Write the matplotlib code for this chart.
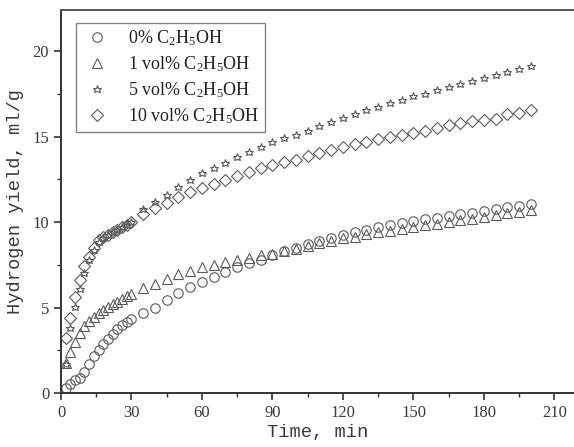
import matplotlib
matplotlib.use("Agg")
import matplotlib.pyplot as plt
from matplotlib.ticker import MultipleLocator

# sampling times: every 2 min for the first half hour, then every 5 min
time_min = list(range(2, 31, 2)) + list(range(35, 201, 5))

eth_0 = [0.3, 0.55, 0.75, 0.9, 1.25, 1.7, 2.15, 2.5, 2.85, 3.15, 3.45, 3.75, 3.95, 4.15, 4.35,
         4.7, 5.0, 5.45, 5.85, 6.2, 6.5, 6.8, 7.1, 7.35, 7.6, 7.8, 8.05,
         8.3, 8.5, 8.7, 8.9, 9.05, 9.25, 9.4, 9.55, 9.7, 9.85, 9.95, 10.05, 10.15, 10.25,
         10.35, 10.45, 10.55, 10.65, 10.75, 10.85, 10.95, 11.05]
eth_1 = [1.75, 2.4, 3.0, 3.5, 3.9, 4.2, 4.45, 4.65, 4.85, 5.05, 5.2, 5.35, 5.5, 5.65, 5.8,
         6.15, 6.4, 6.65, 6.95, 7.15, 7.35, 7.5, 7.65, 7.8, 7.9, 8.05, 8.15,
         8.3, 8.45, 8.6, 8.75, 8.9, 9.05, 9.15, 9.3, 9.4, 9.5, 9.6, 9.7, 9.8, 9.9,
         10.0, 10.1, 10.2, 10.3, 10.4, 10.5, 10.6, 10.7]
eth_5 = [1.7, 3.8, 5.05, 6.1, 7.0, 7.75, 8.35, 8.85, 9.05, 9.25, 9.4, 9.55, 9.7, 9.85, 10.0,
         10.75, 11.2, 11.6, 12.05, 12.45, 12.85, 13.15, 13.45, 13.8, 14.1, 14.4, 14.7,
         14.9, 15.1, 15.35, 15.6, 15.85, 16.1, 16.3, 16.55, 16.75, 16.95, 17.15, 17.35, 17.5, 17.7,
         17.9, 18.1, 18.25, 18.45, 18.6, 18.8, 18.95, 19.15]
eth_10 = [3.2, 4.4, 5.6, 6.6, 7.4, 7.95, 8.5, 8.95, 9.1, 9.25, 9.4, 9.55, 9.7, 9.85, 10.0,
          10.45, 10.8, 11.1, 11.45, 11.75, 12.0, 12.25, 12.45, 12.7, 12.95, 13.15, 13.35,
          13.5, 13.65, 13.85, 14.05, 14.2, 14.4, 14.55, 14.7, 14.85, 15.0, 15.1, 15.2, 15.35, 15.5,
          15.65, 15.8, 15.9, 15.95, 16.0, 16.3, 16.35, 16.55]

labels = [r"0% C$_2$H$_5$OH", r"1 vol% C$_2$H$_5$OH",
          r"5 vol% C$_2$H$_5$OH", r"10 vol% C$_2$H$_5$OH"]

plt.rcParams["font.family"] = "Liberation Serif"
plt.rcParams["mathtext.fontset"] = "custom"
plt.rcParams["mathtext.rm"] = "Liberation Serif"
plt.rcParams["mathtext.it"] = "Liberation Serif:italic"

fig = plt.figure(figsize=(5.74, 4.47), dpi=100)
ax = fig.add_axes([61 / 574, 54 / 447, 513 / 574, 383 / 447])

edge = "#5a5a5a"
style = dict(linestyle="none", markerfacecolor="none", markeredgecolor=edge,
             markeredgewidth=0.8, clip_on=False)
ax.plot(time_min, eth_0, marker="o", markersize=6.8, label=labels[0], **style)
ax.plot(time_min, eth_1, marker="^", markersize=7.2, label=labels[1], **style)
ax.plot(time_min, eth_5, marker="*", markersize=6.2, label=labels[2], **style)
ax.plot(time_min, eth_10, marker="D", markersize=5.8, label=labels[3], **style)

ax.set_xlim(0, 218.3)
ax.set_ylim(0, 22.4)
ax.xaxis.set_major_locator(MultipleLocator(30))
ax.xaxis.set_minor_locator(MultipleLocator(15))
ax.yaxis.set_major_locator(MultipleLocator(5))
ax.yaxis.set_minor_locator(MultipleLocator(2.5))
ax.tick_params(which="major", direction="out", length=5, width=1.2, labelsize=12,
               color="#333333", labelcolor="#3a3a3a")
ax.tick_params(which="minor", direction="out", length=3, width=1.0, color="#333333")
ax.tick_params(top=False, right=False)

for side in ["left", "bottom", "top"]:
    ax.spines[side].set_linewidth(1.4)
    ax.spines[side].set_color("#333333")
ax.spines["top"].set_color("#555555")
ax.spines["right"].set_visible(False)

mono = ["Liberation Mono", "DejaVu Sans Mono"]
ax.set_xlabel("Time, min", family=mono, fontsize=13.5, color="#3a3a3a", labelpad=2)
ax.set_ylabel("Hydrogen yield, ml/g", family=mono, fontsize=13.5, color="#3a3a3a", labelpad=6)

leg = ax.legend(loc="upper left", bbox_to_anchor=(0.029, 0.966), borderaxespad=0,
                fontsize=13, frameon=True, fancybox=False, handlelength=1.7,
                handletextpad=0.9, labelspacing=0.35, borderpad=0.3)
leg.get_frame().set_edgecolor("#666666")
leg.get_frame().set_linewidth(1.0)
for t in leg.get_texts():
    t.set_color("#222222")

fig.savefig("out.png", dpi=100)
